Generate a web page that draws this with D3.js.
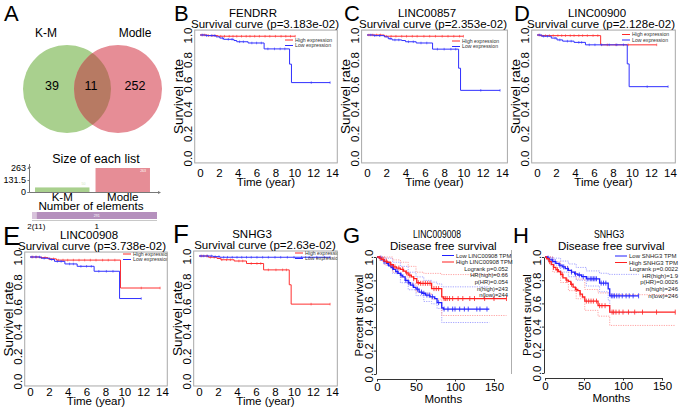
<!DOCTYPE html>
<html><head><meta charset="utf-8">
<script src="https://cdn.jsdelivr.net/npm/d3@7"></script>
<style>body{margin:0;background:#fff}svg{display:block}</style>
</head><body><svg id="c" width="680" height="410"></svg>
<script>
// ---------- DATA ----------
const vennSets = ["K-M", "Modle"];
const vennRegionCounts = [39, 11, 252];          // only K-M, both, only Modle
const listSizes = [50, 263];
const listTicks = [0, 131.5, 263];
const elementGroups = ["2(11)", "1"];
const elementCounts = [11, 291];

const kmTicksX = [0, 2, 4, 6, 8, 10, 12, 14];
const kmTicksY = [0, 0.2, 0.4, 0.6, 0.8, 1.0];
const kmLegend = ["High expression", "Low expression"];

// [time (year), survival]
const fendrrHigh = [[0,1],[0.8,0.995],[1.9,0.99],[10.1,0.99]];
const fendrrLow  = [[0,1],[0.6,0.995],[1.7,0.985],[2.1,0.975],[2.5,0.965],[3.6,0.955],[3.9,0.945],[5.1,0.935],[6.8,0.887],[9.5,0.763],[9.7,0.613],[13.8,0.613]];
const fendrrHighCens = [0.2,0.5,0.9,1.3,1.6,2.2,2.6,3.1,3.5,3.9,4.4,4.9,5.3,5.8,6.3,6.9,7.4,8.0,8.6,9.1,9.6,10.1];
const fendrrLowCens  = [0.3,0.7,1.2,1.5,2.4,3.0,3.4,4.2,4.6,5.5,6.0,6.5,7.2,7.9,8.5,9.0,11.8,13.8];

const lnc857High = [[0,1],[1.8,0.99],[10.0,0.99]];
const lnc857Low  = [[0,1],[0.7,0.995],[1.8,0.985],[2.2,0.97],[2.6,0.96],[3.6,0.955],[4.0,0.945],[5.1,0.935],[6.8,0.885],[9.5,0.73],[9.7,0.55],[13.8,0.55]];
const lnc857HighCens = [0.2,0.6,1.0,1.4,2.0,2.5,3.0,3.6,4.1,4.7,5.2,5.9,6.5,7.1,7.8,8.4,9.0,9.6,10.0];
const lnc857LowCens  = [0.4,0.8,1.3,2.4,2.9,3.3,4.3,4.8,5.6,6.2,7.3,8.0,8.7,9.2,11.8,13.8];

const lnc900High = [[0,1],[0.3,0.995],[6.7,0.92],[12.6,0.92]];
const lnc900Low  = [[0,1],[0.5,0.99],[1.5,0.975],[2.1,0.96],[2.7,0.95],[3.9,0.94],[5.1,0.92],[9.5,0.765],[9.7,0.58],[13.8,0.58]];
const lnc900HighCens = [0.2,0.5,0.9,1.3,1.7,2.2,2.6,3.0,3.5,3.9,4.4,4.8,5.3,5.9,6.4,7.4,8.3,9.6,12.6];
const lnc900LowCens  = [0.3,0.7,1.1,1.9,2.4,3.2,3.6,4.4,4.7,5.5,6.1,6.8,7.6,8.4,9.1,11.6,13.8];

const lnc908High = [[0,1],[1.0,0.995],[1.9,0.985],[2.8,0.975],[9.6,0.75],[13.8,0.75]];
const lnc908Low  = [[0,1],[1.2,0.99],[2.1,0.98],[2.6,0.965],[3.7,0.944],[5.0,0.925],[6.8,0.885],[9.5,0.665],[11.8,0.665]];
const lnc908HighCens = [0.3,0.7,1.2,1.6,2.1,2.5,3.0,3.5,4.0,4.6,5.2,5.8,6.4,7.0,7.7,8.3,9.0,11.8,13.8];
const lnc908LowCens  = [0.2,0.6,1.0,1.5,2.3,2.9,3.3,4.2,4.6,5.4,6.0,6.5,7.3,8.1,8.8,11.8];

const snhg3High = [[0,1],[1.0,0.99],[1.9,0.98],[2.3,0.97],[3.7,0.96],[5.0,0.94],[6.8,0.889],[9.5,0.77],[9.7,0.615],[13.8,0.615]];
const snhg3Low  = [[0,1],[1.5,0.995],[2.2,0.99],[13.8,0.99]];
const snhg3HighCens = [0.3,0.8,1.2,1.6,2.4,2.9,3.3,4.2,4.6,5.5,6.1,6.5,7.3,8.1,8.8,9.2,11.8,13.8];
const snhg3LowCens  = [0.2,0.5,0.9,1.3,1.7,2.1,2.6,3.0,3.5,4.0,4.5,5.0,5.5,6.1,6.7,7.3,8.0,8.6,9.3,10.0,10.8,11.6,12.4,13.2,13.8];

// GEPIA disease free survival, [months, survival]
const dfsTicksX = [0, 50, 100, 150];
const dfsTicksY = [0, 0.2, 0.4, 0.6, 0.8, 1.0];
const g908Low  = [[0,1],[3,0.99],[6,0.975],[9,0.96],[12,0.945],[15,0.925],[18,0.91],[21,0.895],[24,0.875],[27,0.86],[30,0.845],[33,0.83],[36,0.8],[40,0.78],[43,0.76],[47,0.74],[50,0.725],[54,0.7],[58,0.69],[62,0.675],[68,0.66],[74,0.645],[77,0.61],[83,0.565],[85,0.555],[144,0.555]];
const g908High = [[0,1],[3,0.99],[6,0.98],[9,0.965],[13,0.955],[17,0.935],[21,0.915],[25,0.905],[30,0.895],[34,0.88],[37,0.865],[40,0.845],[44,0.83],[47,0.815],[51,0.78],[55,0.775],[70,0.73],[83,0.66],[85,0.645],[166,0.645]];
const g908LowUp  = [[0,1],[10,0.99],[20,0.955],[30,0.92],[40,0.87],[50,0.83],[60,0.8],[70,0.785],[77,0.77],[83,0.745],[144,0.745]];
const g908LowLo  = [[0,1],[10,0.94],[20,0.86],[30,0.78],[40,0.72],[50,0.67],[60,0.62],[70,0.6],[77,0.56],[83,0.44],[144,0.44]];
const g908HighUp = [[0,1],[10,1.0],[20,0.975],[30,0.955],[40,0.92],[50,0.87],[60,0.86],[83,0.85],[166,0.85]];
const g908HighLo = [[0,1],[10,0.93],[20,0.87],[30,0.83],[40,0.77],[50,0.7],[60,0.69],[70,0.64],[83,0.5],[166,0.5]];
const g908LowCens  = [5,9,14,20,26,31,37,41,46,52,57,60,64,67,71,79,86,91,97,100,106,112,117,128,132,141];
const g908HighCens = [4,8,12,18,23,28,33,38,42,47,53,56,59,62,65,68,73,76,79,86,88,90,93,97,104,110,119,125,138,150,166];
const g908Legend = ["Low LINC00908 TPM", "High LINC00908 TPM"];
const g908Stats = ["Logrank p=0.052", "HR(high)=0.66", "p(HR)=0.054", "n(high)=243", "n(low)=244"];

const hSnhgLow  = [[0,1],[3,0.99],[6,0.975],[10,0.96],[14,0.945],[18,0.93],[22,0.915],[26,0.9],[30,0.885],[34,0.87],[38,0.855],[42,0.845],[47,0.83],[53,0.812],[70,0.775],[81,0.725],[83,0.665],[120,0.665]];
const hSnhgHigh = [[0,1],[2,0.985],[5,0.96],[8,0.935],[11,0.91],[14,0.89],[17,0.875],[20,0.85],[23,0.82],[27,0.8],[30,0.79],[33,0.765],[36,0.74],[39,0.72],[42,0.71],[45,0.68],[48,0.655],[51,0.62],[68,0.58],[83,0.525],[167,0.525]];
const hSnhgLowUp  = [[0,1],[10,0.99],[20,0.965],[30,0.94],[40,0.91],[53,0.88],[70,0.86],[81,0.85],[120,0.85]];
const hSnhgLowLo  = [[0,1],[10,0.93],[20,0.87],[30,0.83],[40,0.8],[53,0.75],[70,0.7],[81,0.63],[83,0.52],[120,0.52]];
const hSnhgHighUp = [[0,1],[10,0.96],[20,0.92],[30,0.87],[40,0.81],[51,0.72],[68,0.69],[83,0.675],[167,0.675]];
const hSnhgHighLo = [[0,1],[10,0.87],[20,0.78],[30,0.71],[40,0.64],[51,0.54],[68,0.49],[83,0.41],[167,0.41]];
const hSnhgLowCens  = [4,9,13,19,24,29,34,39,44,49,55,58,60,62,64,66,72,75,78,85,87,89,92,95,99,104,108,113,120];
const hSnhgHighCens = [6,11,16,22,28,34,40,45,53,56,59,62,66,70,73,77,86,88,91,95,100,107,115,125,143,167];
const hSnhgLegend = ["Low SNHG3 TPM", "High SNHG3 TPM"];
const hSnhgStats = ["Logrank p=0.0022", "HR(high)=1.9", "p(HR)=0.0026", "n(high)=246", "n(low)=246"];

// ---------- DRAWING ----------
const FONT = '"Liberation Sans", Arial, Helvetica, sans-serif';
const svg = d3.select("#c").attr("font-family", FONT);
const defs = svg.append("defs");

function txt(g, x, y, s, size, anchor) {
  return g.append("text").attr("x", x).attr("y", y).attr("font-size", size)
    .attr("text-anchor", anchor || "start").attr("fill", "#000").text(s);
}
function stepAt(data, t) { let s = data[0][1]; for (const d of data) if (d[0] <= t) s = d[1]; return s; }

// Panel letters
[["A",4,21,22],["B",174,21,22],["C",344,21,22],["D",514,21,22],["E",3,245,26],["F",173,243,26],["G",343,243,22],["H",513,243,22]]
  .forEach(([l,x,y,s]) => txt(svg, x, y, l, s));

// thin frame line left of panel H
svg.append("line").attr("x1",511.5).attr("x2",511.5).attr("y1",250).attr("y2",374).attr("stroke","#999").attr("stroke-width",0.8);

// ---- Panel A: Venn ----
const vg = svg.append("g");
const vennLayout = [{cx:67, cy:89, r:44, fill:"#a9d08e"}, {cx:118, cy:89, r:44, fill:"#e68d96"}];
defs.append("clipPath").attr("id","clipKM").append("circle")
  .attr("cx", vennLayout[0].cx).attr("cy", vennLayout[0].cy).attr("r", vennLayout[0].r);
vg.selectAll("circle.set").data(vennSets).join("circle").attr("class","set")
  .attr("cx",(d,i)=>vennLayout[i].cx).attr("cy",(d,i)=>vennLayout[i].cy).attr("r",(d,i)=>vennLayout[i].r)
  .attr("fill",(d,i)=>vennLayout[i].fill);
vg.append("circle").attr("cx",vennLayout[1].cx).attr("cy",vennLayout[1].cy).attr("r",vennLayout[1].r)
  .attr("clip-path","url(#clipKM)").attr("fill","#b77a63");
const setLabelX = [46, 135];
vennSets.forEach((s,i)=>txt(vg, setLabelX[i], 37, s, 12, "middle"));
const regionX = [52, 91, 135];
vennRegionCounts.forEach((c,i)=>txt(vg, regionX[i], 90, c, 12.5, "middle"));

// ---- Panel A: list sizes bar ----
const ug = svg.append("g");
txt(ug, 96, 163, "Size of each list", 12.5, "middle");
const sy = d3.scaleLinear().domain([0, 263]).range([192, 168]);
const sx = d3.scaleBand().domain(vennSets).range([32, 153]).paddingInner(0.1).paddingOuter(0.05);
ug.selectAll("rect.sz").data(listSizes).join("rect").attr("class","sz")
  .attr("x",(d,i)=>sx(vennSets[i])).attr("width",sx.bandwidth())
  .attr("y",d=>sy(d)).attr("height",d=>sy(0)-sy(d))
  .attr("fill",(d,i)=>i===0?"#a9d08e":"#e68d96");
ug.selectAll("text.szv").data(listSizes).join("text").attr("class","szv")
  .attr("x",(d,i)=>sx(vennSets[i])+sx.bandwidth()-4).attr("y",(d,i)=>i===0?sy(d)-2:sy(d)+4)
  .attr("font-size",3.5).attr("text-anchor","end").attr("fill",(d,i)=>i===0?"#cfe6bd":"#fff").text(d=>d);
const sya = ug.append("g").attr("transform","translate(29.5,0)")
  .call(d3.axisLeft(sy).tickValues(listTicks).tickSize(2).tickPadding(1.5).tickFormat(d=>d));
sya.attr("font-size",9).attr("font-family",FONT);
sya.select(".domain").attr("stroke","#777").attr("d","M-2,192.5H0V164");
sya.selectAll(".tick line").attr("stroke","#777");
ug.append("path").attr("d","M29.5,165 l-1.5,3 h3 z").attr("fill","#777");
ug.append("line").attr("x1",29.5).attr("x2",160).attr("y1",192.5).attr("y2",192.5).attr("stroke","#777");
ug.append("path").attr("d","M161,192.5 l-3,-1.5 v3 z").attr("fill","#777");
vennSets.forEach(s=>txt(ug, sx(s)+sx.bandwidth()/2, 200.5, s, 11.5, "middle"));

// ---- Panel A: number of elements ----
txt(ug, 91, 210, "Number of elements", 11.7, "middle");
const ex = d3.scaleLinear().domain([0, d3.sum(elementCounts)]).range([32, 157]);
const cum = d3.cumsum(elementCounts);
ug.selectAll("rect.el").data(elementCounts).join("rect").attr("class","el")
  .attr("x",(d,i)=>ex(cum[i]-d)).attr("width",d=>ex(d)-ex(0))
  .attr("y",212).attr("height",7)
  .attr("fill",(d,i)=>i===0?"#d8c3dc":"#b590bd");
ug.append("line").attr("x1",32).attr("x2",157).attr("y1",220.5).attr("y2",220.5).attr("stroke","#c8c8c8");
txt(ug, ex(cum[1]-elementCounts[1]/2), 217, elementCounts[1], 3.5, "middle").attr("fill","#fff");
elementGroups.forEach((gname,i)=>txt(ug, ex(cum[i]-elementCounts[i]/2)+ (i===0?2:0), 229, gname, 8, "middle"));

// ---- KM panels B-F ----
function kmPanel(o) {
  const g = svg.append("g");
  const x = d3.scaleLinear().domain([0,14]).range([o.x0, o.x14]);
  const y = d3.scaleLinear().domain([0,1]).range([o.y0, o.y1]);
  const bx0 = x(-0.56), bx1 = x(14.56), by0 = y(-0.04), by1 = y(1.04);
  const cid = "clip" + o.id;
  defs.append("clipPath").attr("id", cid).append("rect")
    .attr("x", bx0).attr("y", by1).attr("width", bx1-bx0).attr("height", by0-by1);
  g.append("rect").attr("x",bx0).attr("y",by1).attr("width",bx1-bx0).attr("height",by0-by1)
    .attr("fill","none").attr("stroke","#a8a8a8").attr("stroke-width",1);
  const ax = g.append("g").attr("transform",`translate(0,${by0})`)
    .call(d3.axisBottom(x).tickValues(kmTicksX).tickSize(0).tickPadding(o.tp));
  ax.attr("font-size",11.5).attr("font-family",FONT);
  ax.select(".domain").remove();
  const ay = g.append("g").attr("transform",`translate(${bx0},0)`)
    .call(d3.axisLeft(y).tickValues(kmTicksY).tickSize(0).tickFormat(d3.format(".1f")));
  ay.attr("font-size",11.5).attr("font-family",FONT);
  ay.select(".domain").remove();
  ay.selectAll("text").attr("x",0).attr("y",-2.5).attr("dy",null).attr("text-anchor","middle").attr("transform","rotate(-90)");
  txt(g, (bx0+bx1)/2, by0+o.lp, "Time (year)", 11.5, "middle");
  txt(g, 0, 0, "Survivel rate", 13.5, "middle").attr("transform",`translate(${bx0-11.5},${(by0+by1)/2}) rotate(-90)`);
  txt(g, o.tx, by1-13, o.title, 11.5, "middle");
  txt(g, o.sx, by1-2, o.sub, 11.5, "middle");
  const line = d3.line().x(d=>x(d[0])).y(d=>y(d[1])).curve(d3.curveStepAfter);
  const pg = g.append("g").attr("clip-path",`url(#${cid})`);
  o.series.forEach(s=>{
    pg.append("path").attr("d", line(s.data)).attr("fill","none").attr("stroke", s.color).attr("stroke-width",1);
    pg.selectAll(null).data(s.cens).join("line")
      .attr("x1",t=>x(t)).attr("x2",t=>x(t))
      .attr("y1",t=>y(stepAt(s.data,t))-1.3).attr("y2",t=>y(stepAt(s.data,t))+1.3)
      .attr("stroke", s.color).attr("stroke-width",0.6);
  });
  const lg = g.append("g").attr("clip-path",`url(#${cid})`);
  kmLegend.forEach((l,i)=>{
    const ly = o.ly + i*5.5;
    lg.append("line").attr("x1",o.lx).attr("x2",o.lx+8).attr("y1",ly).attr("y2",ly)
      .attr("stroke", i===0 ? "#ff2a2a" : "#2a2aff").attr("stroke-width",1);
    txt(lg, o.lx+10, ly+1.8, l, 5.2, "start").attr("fill","#333");
  });
}
const RED = "#ff3030", BLUE = "#3030ff";
kmPanel({id:"B", x0:200, x14:332, y0:158, y1:35, tp:5.5, lp:23, title:"FENDRR", sub:"Survival curve (p=3.183e-02)", tx:253, sx:265,
  lx:285, ly:40, series:[{data:fendrrHigh,cens:fendrrHighCens,color:RED},{data:fendrrLow,cens:fendrrLowCens,color:BLUE}]});
kmPanel({id:"C", x0:367, x14:502, y0:158, y1:35, tp:5.5, lp:23, title:"LINC00857", sub:"Survival curve (p=2.353e-02)", tx:427, sx:433,
  lx:452, ly:41, series:[{data:lnc857High,cens:lnc857HighCens,color:RED},{data:lnc857Low,cens:lnc857LowCens,color:BLUE}]});
kmPanel({id:"D", x0:537, x14:670, y0:158, y1:35, tp:5.5, lp:23, title:"LINC00900", sub:"Survival curve (p=2.128e-02)", tx:597, sx:601,
  lx:622, ly:34.5, series:[{data:lnc900High,cens:lnc900HighCens,color:RED},{data:lnc900Low,cens:lnc900LowCens,color:BLUE}]});
kmPanel({id:"E", x0:30, x14:162, y0:381, y1:257, tp:2, lp:19, title:"LINC00908", sub:"Survival curve (p=3.738e-02)", tx:89, sx:92,
  lx:123, ly:254, series:[{data:lnc908High,cens:lnc908HighCens,color:RED},{data:lnc908Low,cens:lnc908LowCens,color:BLUE}]});
kmPanel({id:"F", x0:199, x14:332, y0:381, y1:256, tp:2, lp:19, title:"SNHG3", sub:"Survival curve (p=2.63e-02)", tx:252, sx:265,
  lx:295, ly:253, series:[{data:snhg3High,cens:snhg3HighCens,color:RED},{data:snhg3Low,cens:snhg3LowCens,color:BLUE}]});

// ---- GEPIA panels G-H ----
function dfsPanel(o) {
  const g = svg.append("g");
  const x = d3.scaleLinear().domain([0,150]).range([o.x0, o.x150]);
  const y = d3.scaleLinear().domain([0,1]).range([o.y0, o.y1]);
  const ay = g.append("g").attr("transform",`translate(${o.x0-1},0)`)
    .call(d3.axisLeft(y).tickValues(dfsTicksY).tickSize(2).tickSizeOuter(0).tickFormat(d3.format(".1f")));
  ay.attr("font-size",11.5).attr("font-family",FONT);
  ay.selectAll("path,line").attr("stroke","#333");
  ay.selectAll("text").attr("x",0).attr("y",-3.5).attr("dy",null).attr("text-anchor","middle").attr("transform","rotate(-90)");
  const ax = g.append("g").attr("transform",`translate(0,${o.y0+5})`)
    .call(d3.axisBottom(x).tickValues(dfsTicksX).tickSize(2.5).tickSizeOuter(0).tickPadding(1.5));
  ax.attr("font-size",11.5).attr("font-family",FONT);
  ax.selectAll("path,line").attr("stroke","#333");
  txt(g, x(85), o.y0+29, "Months", 11.5, "middle");
  txt(g, 0, 0, "Percent survival", 11.5, "middle").attr("transform",`translate(${o.x0-14.5},${(o.y0+o.y1)/2}) rotate(-90)`);
  txt(g, o.tx, o.y1-19, o.title, 11.5, "middle").attr("textLength", o.tw).attr("lengthAdjust","spacingAndGlyphs");
  txt(g, x(85), o.y1-7, "Disease free survival", 11.5, "middle");
  const line = d3.line().x(d=>x(d[0])).y(d=>y(d[1])).curve(d3.curveStepAfter);
  o.ci.forEach(c=>g.append("path").attr("d",line(c.data)).attr("fill","none")
    .attr("stroke",c.color).attr("stroke-width",0.9).attr("stroke-dasharray","1.2,1.2"));
  o.series.forEach(s=>{
    g.append("path").attr("d", line(s.data)).attr("fill","none").attr("stroke", s.color).attr("stroke-width",1.3);
    g.selectAll(null).data(s.cens).join("line")
      .attr("x1",t=>x(t)).attr("x2",t=>x(t))
      .attr("y1",t=>y(stepAt(s.data,t))-2.5).attr("y2",t=>y(stepAt(s.data,t))+2.5)
      .attr("stroke", s.color).attr("stroke-width",0.8);
  });
  o.legend.forEach((l,i)=>{
    const ly = o.ly + i*6.5;
    g.append("line").attr("x1",o.lx).attr("x2",o.lx+12).attr("y1",ly).attr("y2",ly)
      .attr("stroke", i===0 ? "#2020ff" : "#ff2020").attr("stroke-width",1);
    txt(g, o.lx+14, ly+2, l, o.fs, "start").attr("fill","#222");
  });
  o.stats.forEach((s,i)=>txt(g, o.rx, o.ly+15 + i*6.7, s, o.fs, "end").attr("fill","#222"));
}
dfsPanel({x0:377, x150:494, y0:374, y1:257, title:"LINC009008", tx:437, tw:48, lx:442, ly:255.5, rx:508, fs:5.8,
  legend:g908Legend, stats:g908Stats,
  ci:[{data:g908LowUp,color:"#9a9aff"},{data:g908LowLo,color:"#9a9aff"},{data:g908HighUp,color:"#ff9a9a"},{data:g908HighLo,color:"#ff9a9a"}],
  series:[{data:g908Low,cens:g908LowCens,color:"#2020ff"},{data:g908High,cens:g908HighCens,color:"#ff2020"}]});
dfsPanel({x0:545, x150:662, y0:373, y1:257, title:"SNHG3", tx:609, tw:30, lx:615, ly:256, rx:678, fs:6,
  legend:hSnhgLegend, stats:hSnhgStats,
  ci:[{data:hSnhgLowUp,color:"#9a9aff"},{data:hSnhgLowLo,color:"#9a9aff"},{data:hSnhgHighUp,color:"#ff9a9a"},{data:hSnhgHighLo,color:"#ff9a9a"}],
  series:[{data:hSnhgLow,cens:hSnhgLowCens,color:"#2020ff"},{data:hSnhgHigh,cens:hSnhgHighCens,color:"#ff2020"}]});
</script></body></html>
